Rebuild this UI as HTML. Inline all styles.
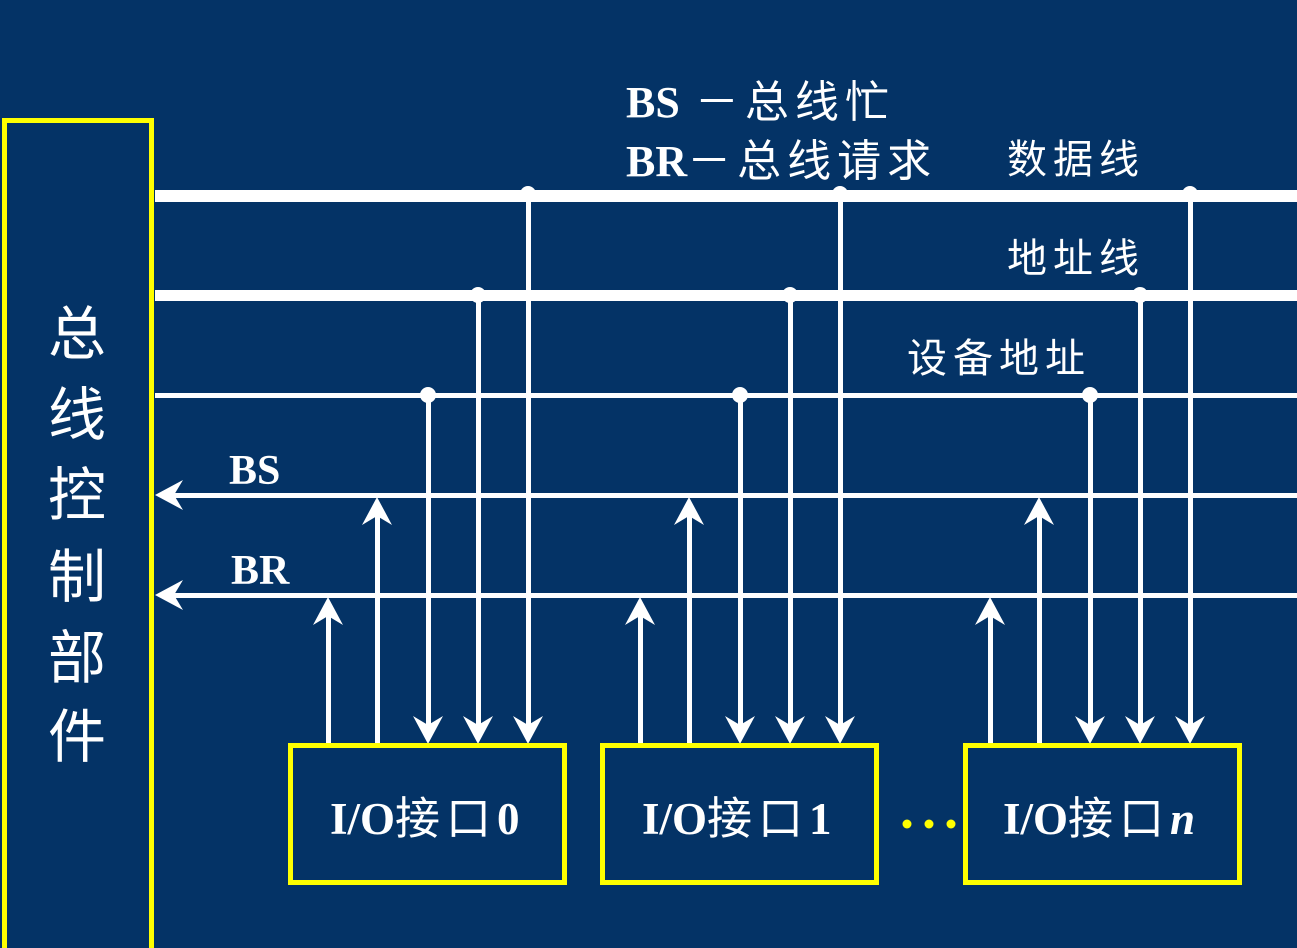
<!DOCTYPE html>
<html><head><meta charset="utf-8"><style>
html,body{margin:0;padding:0;background:#043366;}
svg{display:block}
.s{font-family:"Liberation Serif","Noto Sans CJK SC",serif;font-weight:bold;fill:#fff}
.c{font-family:"Noto Sans CJK SC","WenQuanYi Zen Hei",sans-serif;fill:#fff}
</style></head><body>
<svg width="1297" height="948" viewBox="0 0 1297 948" xmlns="http://www.w3.org/2000/svg">
<rect width="1297" height="948" fill="#043366"/>
<defs>
<polygon id="ad" points="0,0 -15,-28 0,-19 15,-28" fill="#fff"/>
<polygon id="au" points="0,0 -15,28 0,19 15,28" fill="#fff"/>
<polygon id="al" points="0,0 28,-15 19,0 28,15" fill="#fff"/>
</defs>
<rect x="4.5" y="120.5" width="147" height="830" fill="none" stroke="#ffff00" stroke-width="5"/>
<g class="c" font-size="58" text-anchor="middle">
<text x="77" y="354">总</text><text x="77" y="435">线</text><text x="77" y="515">控</text>
<text x="77" y="597">制</text><text x="77" y="678">部</text><text x="77" y="757">件</text>
</g>
<rect x="155" y="190" width="1142" height="12" fill="#fff"/>
<rect x="155" y="290" width="1142" height="11" fill="#fff"/>
<rect x="155" y="393" width="1142" height="5" fill="#fff"/>
<rect x="165" y="493" width="1132" height="5" fill="#fff"/>
<rect x="165" y="593" width="1132" height="5" fill="#fff"/>
<use href="#al" x="155" y="495"/>
<use href="#al" x="155" y="595"/>
<g id="g0">
<rect x="326" y="610" width="5" height="134" fill="#fff"/>
<use href="#au" x="328" y="597"/>
<rect x="375" y="510" width="5" height="234" fill="#fff"/>
<use href="#au" x="377" y="497"/>
<rect x="426" y="395" width="5" height="330" fill="#fff"/>
<circle cx="428" cy="395" r="8" fill="#fff"/>
<use href="#ad" x="428" y="744"/>
<rect x="476" y="295" width="5" height="430" fill="#fff"/>
<circle cx="478" cy="295" r="8" fill="#fff"/>
<use href="#ad" x="478" y="744"/>
<rect x="526" y="196" width="5" height="530" fill="#fff"/>
<circle cx="528" cy="194" r="8" fill="#fff"/>
<use href="#ad" x="528" y="744"/>
</g>
<use href="#g0" x="312"/>
<use href="#g0" x="662"/>
<g fill="none" stroke="#ffff00" stroke-width="5">
<rect x="290.5" y="745.5" width="274" height="137"/>
<rect x="602.5" y="745.5" width="274" height="137"/>
<rect x="965.5" y="745.5" width="274" height="137"/>
</g>
<g class="s" font-size="45">
<text x="330" y="834">I/O<tspan class="c" font-weight="normal" letter-spacing="6">接口</tspan>0</text>
<text x="642" y="834">I/O<tspan class="c" font-weight="normal" letter-spacing="6">接口</tspan>1</text>
<text x="1003" y="834">I/O<tspan class="c" font-weight="normal" letter-spacing="6">接口</tspan><tspan font-style="italic">n</tspan></text>
</g>
<g fill="#ffff00"><circle cx="907" cy="824" r="4.5"/><circle cx="929" cy="824" r="4.5"/><circle cx="951" cy="824" r="4.5"/></g>
<text class="s" font-size="44" x="626" y="117">BS <tspan class="c" font-weight="normal" letter-spacing="6" dx="4">－总线忙</tspan></text>
<text class="s" font-size="44" x="626" y="176">BR<tspan class="c" font-weight="normal" letter-spacing="6">－总线请求</tspan></text>
<text class="c" font-size="40" x="1007" y="173" letter-spacing="6">数据线</text>
<text class="c" font-size="40" x="1007" y="272" letter-spacing="6">地址线</text>
<text class="c" font-size="40" x="907" y="372" letter-spacing="6">设备地址</text>
<text class="s" font-size="42" x="229" y="484">BS</text>
<text class="s" font-size="42" x="231" y="584">BR</text>
</svg>
</body></html>
